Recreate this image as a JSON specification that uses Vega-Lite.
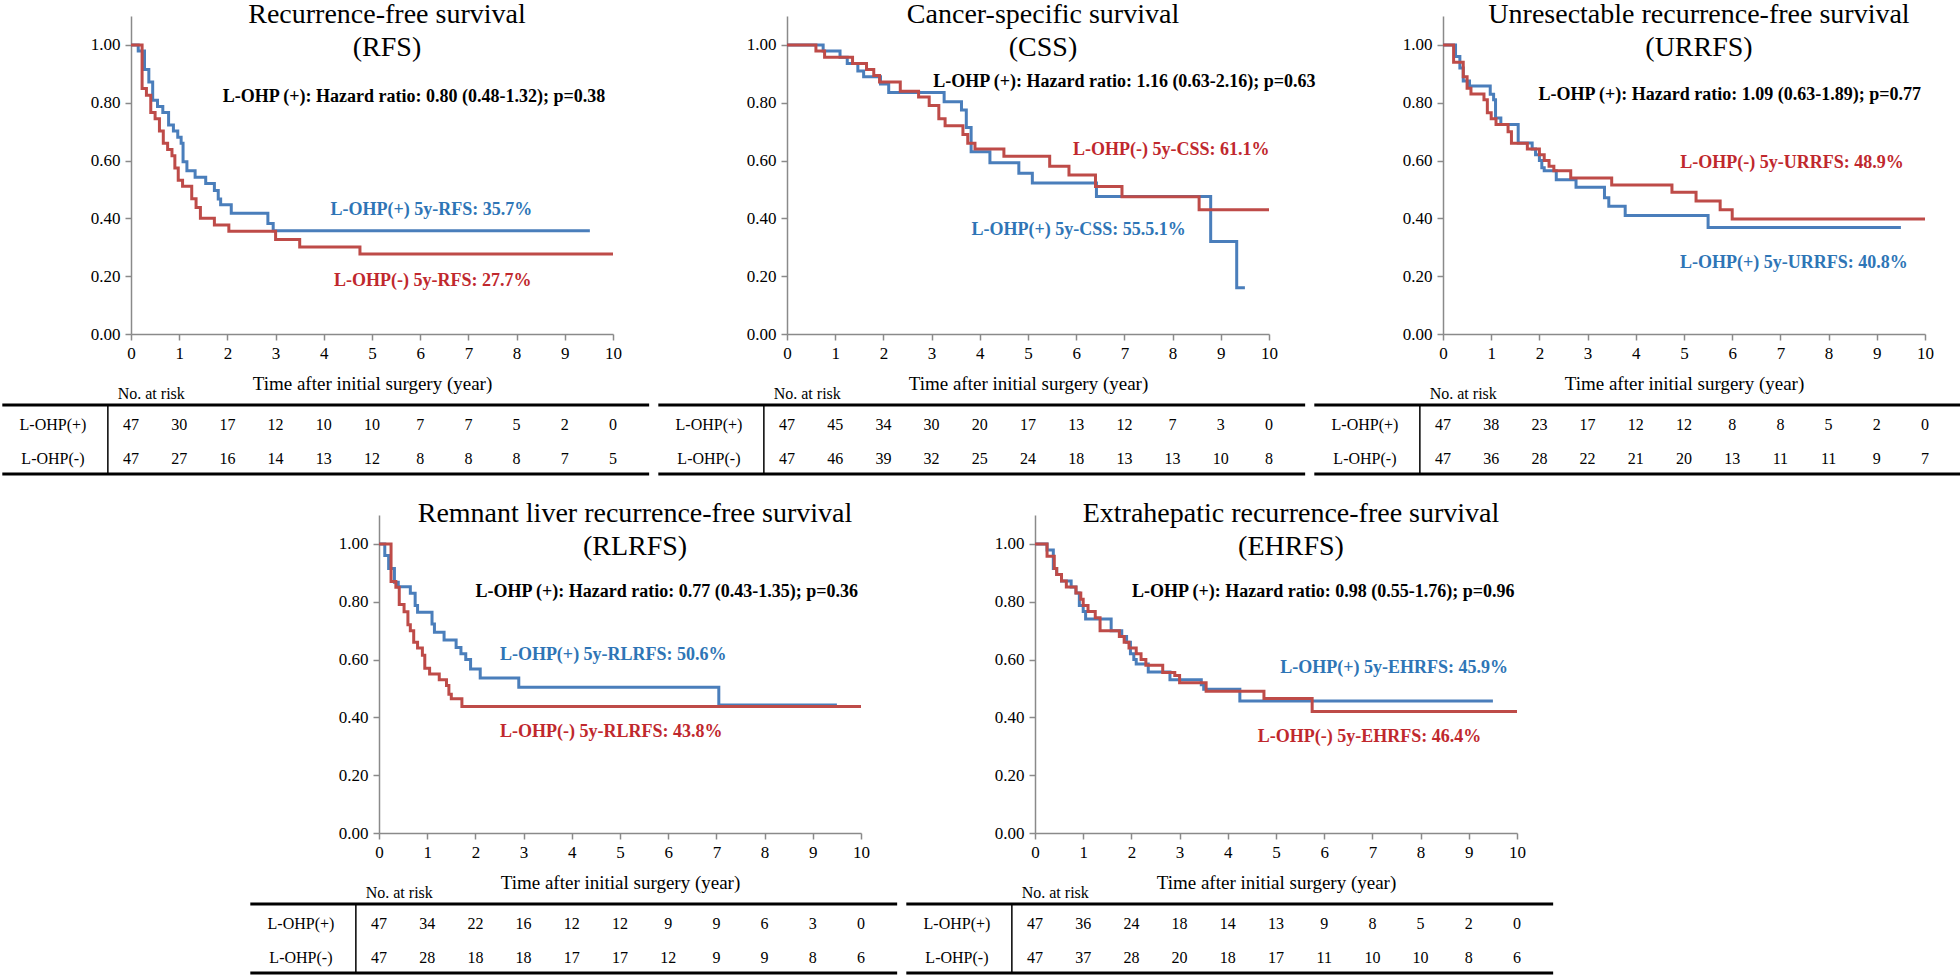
{
"$schema":"https://vega.github.io/schema/vega-lite/v6.json",
"background":"white",
"padding":{"left":0,"top":1,"right":0,"bottom":0},
"config":{"view":{"stroke":null},"font":"Liberation Serif",
"axis":{"labelFont":"Liberation Serif","titleFont":"Liberation Serif","labelColor":"#000","titleColor":"#000","domainColor":"#8a8a8a","tickColor":"#8a8a8a","domainWidth":1.5,"tickWidth":1.5,"grid":false,"labelFontSize":17,"titleFontSize":19,"titleFontWeight":"normal","tickSize":6},
"title":{"fontSize":28,"font":"Liberation Serif","fontWeight":"normal","color":"#000","lineHeight":33,"baseline":"top","offset":-46,"anchor":"middle","frame":"group","dx":15},
"text":{"font":"Liberation Serif","color":"#000"}},
"datasets":{
"km":[
{"p":"RFS","g":"+","t":0,"s":1},{"p":"RFS","g":"+","t":0.15,"s":0.979},{"p":"RFS","g":"+","t":0.28,"s":0.915},{"p":"RFS","g":"+","t":0.37,"s":0.872},{"p":"RFS","g":"+","t":0.45,"s":0.809},{"p":"RFS","g":"+","t":0.55,"s":0.787},{"p":"RFS","g":"+","t":0.66,"s":0.766},{"p":"RFS","g":"+","t":0.78,"s":0.723},{"p":"RFS","g":"+","t":0.88,"s":0.702},{"p":"RFS","g":"+","t":0.97,"s":0.681},{"p":"RFS","g":"+","t":1.04,"s":0.66},{"p":"RFS","g":"+","t":1.08,"s":0.596},{"p":"RFS","g":"+","t":1.16,"s":0.565},{"p":"RFS","g":"+","t":1.33,"s":0.542},{"p":"RFS","g":"+","t":1.55,"s":0.521},{"p":"RFS","g":"+","t":1.73,"s":0.496},{"p":"RFS","g":"+","t":1.81,"s":0.467},{"p":"RFS","g":"+","t":1.86,"s":0.447},{"p":"RFS","g":"+","t":2.08,"s":0.418},{"p":"RFS","g":"+","t":2.84,"s":0.382},{"p":"RFS","g":"+","t":2.95,"s":0.357},{"p":"RFS","g":"+","t":9.52,"s":0.357},
{"p":"RFS","g":"-","t":0,"s":1},{"p":"RFS","g":"-","t":0.23,"s":0.849},{"p":"RFS","g":"-","t":0.32,"s":0.826},{"p":"RFS","g":"-","t":0.41,"s":0.766},{"p":"RFS","g":"-","t":0.5,"s":0.745},{"p":"RFS","g":"-","t":0.59,"s":0.702},{"p":"RFS","g":"-","t":0.67,"s":0.66},{"p":"RFS","g":"-","t":0.76,"s":0.638},{"p":"RFS","g":"-","t":0.85,"s":0.617},{"p":"RFS","g":"-","t":0.91,"s":0.574},{"p":"RFS","g":"-","t":0.98,"s":0.532},{"p":"RFS","g":"-","t":1.07,"s":0.511},{"p":"RFS","g":"-","t":1.26,"s":0.468},{"p":"RFS","g":"-","t":1.35,"s":0.438},{"p":"RFS","g":"-","t":1.44,"s":0.4},{"p":"RFS","g":"-","t":1.73,"s":0.377},{"p":"RFS","g":"-","t":2.03,"s":0.355},{"p":"RFS","g":"-","t":3.0,"s":0.327},{"p":"RFS","g":"-","t":3.5,"s":0.301},{"p":"RFS","g":"-","t":4.75,"s":0.277},{"p":"RFS","g":"-","t":10,"s":0.277},
{"p":"CSS","g":"+","t":0,"s":1},{"p":"CSS","g":"+","t":0.75,"s":0.979},{"p":"CSS","g":"+","t":1.1,"s":0.957},{"p":"CSS","g":"+","t":1.25,"s":0.936},{"p":"CSS","g":"+","t":1.47,"s":0.91},{"p":"CSS","g":"+","t":1.59,"s":0.89},{"p":"CSS","g":"+","t":1.94,"s":0.865},{"p":"CSS","g":"+","t":2.11,"s":0.835},{"p":"CSS","g":"+","t":3.26,"s":0.803},{"p":"CSS","g":"+","t":3.62,"s":0.775},{"p":"CSS","g":"+","t":3.72,"s":0.714},{"p":"CSS","g":"+","t":3.82,"s":0.63},{"p":"CSS","g":"+","t":4.21,"s":0.592},{"p":"CSS","g":"+","t":4.81,"s":0.556},{"p":"CSS","g":"+","t":5.09,"s":0.522},{"p":"CSS","g":"+","t":6.42,"s":0.476},{"p":"CSS","g":"+","t":8.79,"s":0.32},{"p":"CSS","g":"+","t":9.33,"s":0.16},{"p":"CSS","g":"+","t":9.5,"s":0.16},
{"p":"CSS","g":"-","t":0,"s":1},{"p":"CSS","g":"-","t":0.6,"s":0.979},{"p":"CSS","g":"-","t":0.78,"s":0.957},{"p":"CSS","g":"-","t":1.36,"s":0.936},{"p":"CSS","g":"-","t":1.65,"s":0.915},{"p":"CSS","g":"-","t":1.8,"s":0.894},{"p":"CSS","g":"-","t":1.92,"s":0.872},{"p":"CSS","g":"-","t":2.35,"s":0.84},{"p":"CSS","g":"-","t":2.73,"s":0.82},{"p":"CSS","g":"-","t":2.95,"s":0.79},{"p":"CSS","g":"-","t":3.15,"s":0.745},{"p":"CSS","g":"-","t":3.28,"s":0.72},{"p":"CSS","g":"-","t":3.65,"s":0.69},{"p":"CSS","g":"-","t":3.75,"s":0.66},{"p":"CSS","g":"-","t":3.9,"s":0.64},{"p":"CSS","g":"-","t":4.5,"s":0.615},{"p":"CSS","g":"-","t":5.45,"s":0.58},{"p":"CSS","g":"-","t":5.85,"s":0.55},{"p":"CSS","g":"-","t":6.4,"s":0.51},{"p":"CSS","g":"-","t":6.95,"s":0.475},{"p":"CSS","g":"-","t":8.55,"s":0.43},{"p":"CSS","g":"-","t":10,"s":0.43},
{"p":"URRFS","g":"+","t":0,"s":1},{"p":"URRFS","g":"+","t":0.26,"s":0.96},{"p":"URRFS","g":"+","t":0.35,"s":0.92},{"p":"URRFS","g":"+","t":0.42,"s":0.875},{"p":"URRFS","g":"+","t":0.55,"s":0.858},{"p":"URRFS","g":"+","t":0.98,"s":0.829},{"p":"URRFS","g":"+","t":1.05,"s":0.81},{"p":"URRFS","g":"+","t":1.09,"s":0.747},{"p":"URRFS","g":"+","t":1.2,"s":0.725},{"p":"URRFS","g":"+","t":1.56,"s":0.661},{"p":"URRFS","g":"+","t":1.85,"s":0.64},{"p":"URRFS","g":"+","t":1.92,"s":0.62},{"p":"URRFS","g":"+","t":2.0,"s":0.6},{"p":"URRFS","g":"+","t":2.05,"s":0.575},{"p":"URRFS","g":"+","t":2.1,"s":0.565},{"p":"URRFS","g":"+","t":2.35,"s":0.534},{"p":"URRFS","g":"+","t":2.76,"s":0.508},{"p":"URRFS","g":"+","t":3.35,"s":0.471},{"p":"URRFS","g":"+","t":3.44,"s":0.442},{"p":"URRFS","g":"+","t":3.78,"s":0.41},{"p":"URRFS","g":"+","t":5.5,"s":0.368},{"p":"URRFS","g":"+","t":9.5,"s":0.368},
{"p":"URRFS","g":"-","t":0,"s":1},{"p":"URRFS","g":"-","t":0.22,"s":0.94},{"p":"URRFS","g":"-","t":0.42,"s":0.89},{"p":"URRFS","g":"-","t":0.5,"s":0.85},{"p":"URRFS","g":"-","t":0.58,"s":0.83},{"p":"URRFS","g":"-","t":0.85,"s":0.81},{"p":"URRFS","g":"-","t":0.92,"s":0.765},{"p":"URRFS","g":"-","t":1.0,"s":0.745},{"p":"URRFS","g":"-","t":1.1,"s":0.725},{"p":"URRFS","g":"-","t":1.35,"s":0.7},{"p":"URRFS","g":"-","t":1.42,"s":0.66},{"p":"URRFS","g":"-","t":1.75,"s":0.64},{"p":"URRFS","g":"-","t":2.0,"s":0.62},{"p":"URRFS","g":"-","t":2.1,"s":0.6},{"p":"URRFS","g":"-","t":2.2,"s":0.58},{"p":"URRFS","g":"-","t":2.3,"s":0.565},{"p":"URRFS","g":"-","t":2.65,"s":0.54},{"p":"URRFS","g":"-","t":3.5,"s":0.515},{"p":"URRFS","g":"-","t":4.75,"s":0.49},{"p":"URRFS","g":"-","t":5.25,"s":0.46},{"p":"URRFS","g":"-","t":5.75,"s":0.43},{"p":"URRFS","g":"-","t":6.0,"s":0.398},{"p":"URRFS","g":"-","t":10,"s":0.398},
{"p":"RLRFS","g":"+","t":0,"s":1},{"p":"RLRFS","g":"+","t":0.12,"s":0.96},{"p":"RLRFS","g":"+","t":0.2,"s":0.915},{"p":"RLRFS","g":"+","t":0.32,"s":0.867},{"p":"RLRFS","g":"+","t":0.4,"s":0.852},{"p":"RLRFS","g":"+","t":0.65,"s":0.829},{"p":"RLRFS","g":"+","t":0.75,"s":0.787},{"p":"RLRFS","g":"+","t":0.8,"s":0.764},{"p":"RLRFS","g":"+","t":1.1,"s":0.723},{"p":"RLRFS","g":"+","t":1.15,"s":0.694},{"p":"RLRFS","g":"+","t":1.35,"s":0.668},{"p":"RLRFS","g":"+","t":1.6,"s":0.642},{"p":"RLRFS","g":"+","t":1.7,"s":0.62},{"p":"RLRFS","g":"+","t":1.8,"s":0.6},{"p":"RLRFS","g":"+","t":1.9,"s":0.567},{"p":"RLRFS","g":"+","t":2.1,"s":0.536},{"p":"RLRFS","g":"+","t":2.9,"s":0.504},{"p":"RLRFS","g":"+","t":7.05,"s":0.443},{"p":"RLRFS","g":"+","t":9.5,"s":0.443},
{"p":"RLRFS","g":"-","t":0,"s":1},{"p":"RLRFS","g":"-","t":0.25,"s":0.87},{"p":"RLRFS","g":"-","t":0.35,"s":0.85},{"p":"RLRFS","g":"-","t":0.42,"s":0.79},{"p":"RLRFS","g":"-","t":0.52,"s":0.765},{"p":"RLRFS","g":"-","t":0.6,"s":0.72},{"p":"RLRFS","g":"-","t":0.65,"s":0.7},{"p":"RLRFS","g":"-","t":0.72,"s":0.66},{"p":"RLRFS","g":"-","t":0.8,"s":0.64},{"p":"RLRFS","g":"-","t":0.9,"s":0.615},{"p":"RLRFS","g":"-","t":0.95,"s":0.57},{"p":"RLRFS","g":"-","t":1.05,"s":0.55},{"p":"RLRFS","g":"-","t":1.25,"s":0.53},{"p":"RLRFS","g":"-","t":1.4,"s":0.51},{"p":"RLRFS","g":"-","t":1.45,"s":0.48},{"p":"RLRFS","g":"-","t":1.5,"s":0.464},{"p":"RLRFS","g":"-","t":1.72,"s":0.438},{"p":"RLRFS","g":"-","t":10,"s":0.438},
{"p":"EHRFS","g":"+","t":0,"s":1},{"p":"EHRFS","g":"+","t":0.25,"s":0.979},{"p":"EHRFS","g":"+","t":0.38,"s":0.915},{"p":"EHRFS","g":"+","t":0.45,"s":0.894},{"p":"EHRFS","g":"+","t":0.55,"s":0.872},{"p":"EHRFS","g":"+","t":0.75,"s":0.851},{"p":"EHRFS","g":"+","t":0.85,"s":0.83},{"p":"EHRFS","g":"+","t":0.92,"s":0.787},{"p":"EHRFS","g":"+","t":1.0,"s":0.766},{"p":"EHRFS","g":"+","t":1.05,"s":0.74},{"p":"EHRFS","g":"+","t":1.58,"s":0.7},{"p":"EHRFS","g":"+","t":1.8,"s":0.68},{"p":"EHRFS","g":"+","t":1.9,"s":0.66},{"p":"EHRFS","g":"+","t":1.98,"s":0.62},{"p":"EHRFS","g":"+","t":2.05,"s":0.6},{"p":"EHRFS","g":"+","t":2.1,"s":0.585},{"p":"EHRFS","g":"+","t":2.35,"s":0.557},{"p":"EHRFS","g":"+","t":2.8,"s":0.53},{"p":"EHRFS","g":"+","t":3.45,"s":0.513},{"p":"EHRFS","g":"+","t":3.5,"s":0.497},{"p":"EHRFS","g":"+","t":4.25,"s":0.457},{"p":"EHRFS","g":"+","t":9.5,"s":0.457},
{"p":"EHRFS","g":"-","t":0,"s":1},{"p":"EHRFS","g":"-","t":0.25,"s":0.957},{"p":"EHRFS","g":"-","t":0.4,"s":0.915},{"p":"EHRFS","g":"-","t":0.45,"s":0.894},{"p":"EHRFS","g":"-","t":0.55,"s":0.872},{"p":"EHRFS","g":"-","t":0.65,"s":0.851},{"p":"EHRFS","g":"-","t":0.85,"s":0.83},{"p":"EHRFS","g":"-","t":0.95,"s":0.809},{"p":"EHRFS","g":"-","t":1.0,"s":0.787},{"p":"EHRFS","g":"-","t":1.1,"s":0.766},{"p":"EHRFS","g":"-","t":1.25,"s":0.745},{"p":"EHRFS","g":"-","t":1.35,"s":0.7},{"p":"EHRFS","g":"-","t":1.75,"s":0.68},{"p":"EHRFS","g":"-","t":1.85,"s":0.66},{"p":"EHRFS","g":"-","t":1.95,"s":0.64},{"p":"EHRFS","g":"-","t":2.1,"s":0.62},{"p":"EHRFS","g":"-","t":2.2,"s":0.6},{"p":"EHRFS","g":"-","t":2.3,"s":0.58},{"p":"EHRFS","g":"-","t":2.65,"s":0.555},{"p":"EHRFS","g":"-","t":2.9,"s":0.545},{"p":"EHRFS","g":"-","t":3.0,"s":0.52},{"p":"EHRFS","g":"-","t":3.55,"s":0.49},{"p":"EHRFS","g":"-","t":4.75,"s":0.465},{"p":"EHRFS","g":"-","t":5.75,"s":0.42},{"p":"EHRFS","g":"-","t":10,"s":0.42}
],
"ann":[
{"p":"RFS","k":"hr","label":"L-OHP (+): Hazard ratio: 0.80 (0.48-1.32); p=0.38","t":5.87,"s":0.82},
{"p":"RFS","k":"+","label":"L-OHP(+) 5y-RFS: 35.7%","t":6.23,"s":0.43},
{"p":"RFS","k":"-","label":"L-OHP(-) 5y-RFS: 27.7%","t":6.26,"s":0.185},
{"p":"CSS","k":"hr","label":"L-OHP (+): Hazard ratio: 1.16 (0.63-2.16); p=0.63","t":7.0,"s":0.873},
{"p":"CSS","k":"-","label":"L-OHP(-) 5y-CSS: 61.1%","t":7.97,"s":0.638},
{"p":"CSS","k":"+","label":"L-OHP(+) 5y-CSS: 55.5.1%","t":6.05,"s":0.361},
{"p":"URRFS","k":"hr","label":"L-OHP (+): Hazard ratio: 1.09 (0.63-1.89); p=0.77","t":5.95,"s":0.827},
{"p":"URRFS","k":"-","label":"L-OHP(-) 5y-URRFS: 48.9%","t":7.24,"s":0.59},
{"p":"URRFS","k":"+","label":"L-OHP(+) 5y-URRFS: 40.8%","t":7.28,"s":0.245},
{"p":"RLRFS","k":"hr","label":"L-OHP (+): Hazard ratio: 0.77 (0.43-1.35); p=0.36","t":5.97,"s":0.835},
{"p":"RLRFS","k":"+","label":"L-OHP(+) 5y-RLRFS: 50.6%","t":4.86,"s":0.614},
{"p":"RLRFS","k":"-","label":"L-OHP(-) 5y-RLRFS: 43.8%","t":4.82,"s":0.348},
{"p":"EHRFS","k":"hr","label":"L-OHP (+): Hazard ratio: 0.98 (0.55-1.76); p=0.96","t":5.98,"s":0.833},
{"p":"EHRFS","k":"+","label":"L-OHP(+) 5y-EHRFS: 45.9%","t":7.45,"s":0.571},
{"p":"EHRFS","k":"-","label":"L-OHP(-) 5y-EHRFS: 46.4%","t":6.94,"s":0.331}
],
"rows":[{"g":"L-OHP(+)","r":1},{"g":"L-OHP(-)","r":2}],
"risk":[
{"p":"RFS","r":1,"t":0,"n":47},{"p":"RFS","r":1,"t":1,"n":30},{"p":"RFS","r":1,"t":2,"n":17},{"p":"RFS","r":1,"t":3,"n":12},{"p":"RFS","r":1,"t":4,"n":10},{"p":"RFS","r":1,"t":5,"n":10},{"p":"RFS","r":1,"t":6,"n":7},{"p":"RFS","r":1,"t":7,"n":7},{"p":"RFS","r":1,"t":8,"n":5},{"p":"RFS","r":1,"t":9,"n":2},{"p":"RFS","r":1,"t":10,"n":0},
{"p":"RFS","r":2,"t":0,"n":47},{"p":"RFS","r":2,"t":1,"n":27},{"p":"RFS","r":2,"t":2,"n":16},{"p":"RFS","r":2,"t":3,"n":14},{"p":"RFS","r":2,"t":4,"n":13},{"p":"RFS","r":2,"t":5,"n":12},{"p":"RFS","r":2,"t":6,"n":8},{"p":"RFS","r":2,"t":7,"n":8},{"p":"RFS","r":2,"t":8,"n":8},{"p":"RFS","r":2,"t":9,"n":7},{"p":"RFS","r":2,"t":10,"n":5},
{"p":"CSS","r":1,"t":0,"n":47},{"p":"CSS","r":1,"t":1,"n":45},{"p":"CSS","r":1,"t":2,"n":34},{"p":"CSS","r":1,"t":3,"n":30},{"p":"CSS","r":1,"t":4,"n":20},{"p":"CSS","r":1,"t":5,"n":17},{"p":"CSS","r":1,"t":6,"n":13},{"p":"CSS","r":1,"t":7,"n":12},{"p":"CSS","r":1,"t":8,"n":7},{"p":"CSS","r":1,"t":9,"n":3},{"p":"CSS","r":1,"t":10,"n":0},
{"p":"CSS","r":2,"t":0,"n":47},{"p":"CSS","r":2,"t":1,"n":46},{"p":"CSS","r":2,"t":2,"n":39},{"p":"CSS","r":2,"t":3,"n":32},{"p":"CSS","r":2,"t":4,"n":25},{"p":"CSS","r":2,"t":5,"n":24},{"p":"CSS","r":2,"t":6,"n":18},{"p":"CSS","r":2,"t":7,"n":13},{"p":"CSS","r":2,"t":8,"n":13},{"p":"CSS","r":2,"t":9,"n":10},{"p":"CSS","r":2,"t":10,"n":8},
{"p":"URRFS","r":1,"t":0,"n":47},{"p":"URRFS","r":1,"t":1,"n":38},{"p":"URRFS","r":1,"t":2,"n":23},{"p":"URRFS","r":1,"t":3,"n":17},{"p":"URRFS","r":1,"t":4,"n":12},{"p":"URRFS","r":1,"t":5,"n":12},{"p":"URRFS","r":1,"t":6,"n":8},{"p":"URRFS","r":1,"t":7,"n":8},{"p":"URRFS","r":1,"t":8,"n":5},{"p":"URRFS","r":1,"t":9,"n":2},{"p":"URRFS","r":1,"t":10,"n":0},
{"p":"URRFS","r":2,"t":0,"n":47},{"p":"URRFS","r":2,"t":1,"n":36},{"p":"URRFS","r":2,"t":2,"n":28},{"p":"URRFS","r":2,"t":3,"n":22},{"p":"URRFS","r":2,"t":4,"n":21},{"p":"URRFS","r":2,"t":5,"n":20},{"p":"URRFS","r":2,"t":6,"n":13},{"p":"URRFS","r":2,"t":7,"n":11},{"p":"URRFS","r":2,"t":8,"n":11},{"p":"URRFS","r":2,"t":9,"n":9},{"p":"URRFS","r":2,"t":10,"n":7},
{"p":"RLRFS","r":1,"t":0,"n":47},{"p":"RLRFS","r":1,"t":1,"n":34},{"p":"RLRFS","r":1,"t":2,"n":22},{"p":"RLRFS","r":1,"t":3,"n":16},{"p":"RLRFS","r":1,"t":4,"n":12},{"p":"RLRFS","r":1,"t":5,"n":12},{"p":"RLRFS","r":1,"t":6,"n":9},{"p":"RLRFS","r":1,"t":7,"n":9},{"p":"RLRFS","r":1,"t":8,"n":6},{"p":"RLRFS","r":1,"t":9,"n":3},{"p":"RLRFS","r":1,"t":10,"n":0},
{"p":"RLRFS","r":2,"t":0,"n":47},{"p":"RLRFS","r":2,"t":1,"n":28},{"p":"RLRFS","r":2,"t":2,"n":18},{"p":"RLRFS","r":2,"t":3,"n":18},{"p":"RLRFS","r":2,"t":4,"n":17},{"p":"RLRFS","r":2,"t":5,"n":17},{"p":"RLRFS","r":2,"t":6,"n":12},{"p":"RLRFS","r":2,"t":7,"n":9},{"p":"RLRFS","r":2,"t":8,"n":9},{"p":"RLRFS","r":2,"t":9,"n":8},{"p":"RLRFS","r":2,"t":10,"n":6},
{"p":"EHRFS","r":1,"t":0,"n":47},{"p":"EHRFS","r":1,"t":1,"n":36},{"p":"EHRFS","r":1,"t":2,"n":24},{"p":"EHRFS","r":1,"t":3,"n":18},{"p":"EHRFS","r":1,"t":4,"n":14},{"p":"EHRFS","r":1,"t":5,"n":13},{"p":"EHRFS","r":1,"t":6,"n":9},{"p":"EHRFS","r":1,"t":7,"n":8},{"p":"EHRFS","r":1,"t":8,"n":5},{"p":"EHRFS","r":1,"t":9,"n":2},{"p":"EHRFS","r":1,"t":10,"n":0},
{"p":"EHRFS","r":2,"t":0,"n":47},{"p":"EHRFS","r":2,"t":1,"n":37},{"p":"EHRFS","r":2,"t":2,"n":28},{"p":"EHRFS","r":2,"t":3,"n":20},{"p":"EHRFS","r":2,"t":4,"n":18},{"p":"EHRFS","r":2,"t":5,"n":17},{"p":"EHRFS","r":2,"t":6,"n":11},{"p":"EHRFS","r":2,"t":7,"n":10},{"p":"EHRFS","r":2,"t":8,"n":10},{"p":"EHRFS","r":2,"t":9,"n":8},{"p":"EHRFS","r":2,"t":10,"n":6}
]
},
"spacing":-7,
"vconcat":[
{"bounds":"flush","spacing":174,"hconcat":[
{"width":482,"height":318,"title":{"text":["Recurrence-free survival","(RFS)"]},"layer":[
{"data":{"name":"km"},"transform":[{"filter":"datum.p=='RFS'"}],"mark":{"type":"line","interpolate":"step-after","strokeWidth":3},"encoding":{"x":{"field":"t","type":"quantitative","scale":{"domain":[0,10],"nice":false},"axis":{"values":[0,1,2,3,4,5,6,7,8,9,10],"title":"Time after initial surgery (year)","labelPadding":5,"titlePadding":13,"labelFlush":false}},"y":{"field":"s","type":"quantitative","scale":{"domain":[0,1.1],"nice":false},"axis":{"values":[0,0.2,0.4,0.6,0.8,1],"format":".2f","title":null,"labelPadding":5}},"stroke":{"field":"g","type":"nominal","scale":{"domain":["+","-"],"range":["#4a7ebb","#be4b48"]},"legend":null}}},
{"data":{"name":"ann"},"transform":[{"filter":"datum.p=='RFS' && datum.k=='hr'"}],"mark":{"type":"text","fontSize":18,"fontWeight":"bold","color":"#000"},"encoding":{"x":{"field":"t","type":"quantitative"},"y":{"field":"s","type":"quantitative"},"text":{"field":"label"}}},
{"data":{"name":"ann"},"transform":[{"filter":"datum.p=='RFS' && datum.k!='hr'"}],"mark":{"type":"text","fontSize":18,"fontWeight":"bold"},"encoding":{"x":{"field":"t","type":"quantitative"},"y":{"field":"s","type":"quantitative"},"text":{"field":"label"},"fill":{"field":"k","type":"nominal","scale":{"domain":["+","-"],"range":["#2e75b6","#c0282d"]},"legend":null}}}
]},
{"width":482,"height":318,"title":{"text":["Cancer-specific survival","(CSS)"]},"layer":[
{"data":{"name":"km"},"transform":[{"filter":"datum.p=='CSS'"}],"mark":{"type":"line","interpolate":"step-after","strokeWidth":3},"encoding":{"x":{"field":"t","type":"quantitative","scale":{"domain":[0,10],"nice":false},"axis":{"values":[0,1,2,3,4,5,6,7,8,9,10],"title":"Time after initial surgery (year)","labelPadding":5,"titlePadding":13,"labelFlush":false}},"y":{"field":"s","type":"quantitative","scale":{"domain":[0,1.1],"nice":false},"axis":{"values":[0,0.2,0.4,0.6,0.8,1],"format":".2f","title":null,"labelPadding":5}},"stroke":{"field":"g","type":"nominal","scale":{"domain":["+","-"],"range":["#4a7ebb","#be4b48"]},"legend":null}}},
{"data":{"name":"ann"},"transform":[{"filter":"datum.p=='CSS' && datum.k=='hr'"}],"mark":{"type":"text","fontSize":18,"fontWeight":"bold","color":"#000"},"encoding":{"x":{"field":"t","type":"quantitative"},"y":{"field":"s","type":"quantitative"},"text":{"field":"label"}}},
{"data":{"name":"ann"},"transform":[{"filter":"datum.p=='CSS' && datum.k!='hr'"}],"mark":{"type":"text","fontSize":18,"fontWeight":"bold"},"encoding":{"x":{"field":"t","type":"quantitative"},"y":{"field":"s","type":"quantitative"},"text":{"field":"label"},"fill":{"field":"k","type":"nominal","scale":{"domain":["+","-"],"range":["#2e75b6","#c0282d"]},"legend":null}}}
]},
{"width":482,"height":318,"title":{"text":["Unresectable recurrence-free survival","(URRFS)"]},"layer":[
{"data":{"name":"km"},"transform":[{"filter":"datum.p=='URRFS'"}],"mark":{"type":"line","interpolate":"step-after","strokeWidth":3},"encoding":{"x":{"field":"t","type":"quantitative","scale":{"domain":[0,10],"nice":false},"axis":{"values":[0,1,2,3,4,5,6,7,8,9,10],"title":"Time after initial surgery (year)","labelPadding":5,"titlePadding":13,"labelFlush":false}},"y":{"field":"s","type":"quantitative","scale":{"domain":[0,1.1],"nice":false},"axis":{"values":[0,0.2,0.4,0.6,0.8,1],"format":".2f","title":null,"labelPadding":5}},"stroke":{"field":"g","type":"nominal","scale":{"domain":["+","-"],"range":["#4a7ebb","#be4b48"]},"legend":null}}},
{"data":{"name":"ann"},"transform":[{"filter":"datum.p=='URRFS' && datum.k=='hr'"}],"mark":{"type":"text","fontSize":18,"fontWeight":"bold","color":"#000"},"encoding":{"x":{"field":"t","type":"quantitative"},"y":{"field":"s","type":"quantitative"},"text":{"field":"label"}}},
{"data":{"name":"ann"},"transform":[{"filter":"datum.p=='URRFS' && datum.k!='hr'"}],"mark":{"type":"text","fontSize":18,"fontWeight":"bold"},"encoding":{"x":{"field":"t","type":"quantitative"},"y":{"field":"s","type":"quantitative"},"text":{"field":"label"},"fill":{"field":"k","type":"nominal","scale":{"domain":["+","-"],"range":["#2e75b6","#c0282d"]},"legend":null}}}
]}
]},
{"bounds":"flush","spacing":174,"hconcat":[
{"width":482,"height":102,"layer":[
{"data":{"name":"risk"},"transform":[{"filter":"datum.p=='RFS'"}],"mark":{"type":"text","fontSize":16},"encoding":{"x":{"field":"t","type":"quantitative","scale":{"domain":[0,10],"nice":false},"axis":null},"y":{"field":"r","type":"quantitative","scale":{"domain":[0.42,3.42],"reverse":true,"nice":false,"zero":false},"axis":null},"text":{"field":"n"}}},
{"data":{"name":"rows"},"mark":{"type":"text","fontSize":16},"encoding":{"x":{"datum":-1.62},"y":{"field":"r","type":"quantitative"},"text":{"field":"g"}}},
{"data":{"values":[{}]},"mark":{"type":"text","fontSize":16,"text":"No. at risk"},"encoding":{"x":{"datum":0.42},"y":{"datum":0.1}}},
{"data":{"values":[{}]},"mark":{"type":"rule","strokeWidth":3,"color":"#000"},"encoding":{"x":{"datum":-2.67},"x2":{"datum":10.75},"y":{"datum":0.42}}},
{"data":{"values":[{}]},"mark":{"type":"rule","strokeWidth":3,"color":"#000"},"encoding":{"x":{"datum":-2.67},"x2":{"datum":10.75},"y":{"datum":2.45}}},
{"data":{"values":[{}]},"mark":{"type":"rule","strokeWidth":1.5,"color":"#000"},"encoding":{"x":{"datum":-0.48},"y":{"datum":0.42},"y2":{"datum":2.45}}}
]},
{"width":482,"height":102,"layer":[
{"data":{"name":"risk"},"transform":[{"filter":"datum.p=='CSS'"}],"mark":{"type":"text","fontSize":16},"encoding":{"x":{"field":"t","type":"quantitative","scale":{"domain":[0,10],"nice":false},"axis":null},"y":{"field":"r","type":"quantitative","scale":{"domain":[0.42,3.42],"reverse":true,"nice":false,"zero":false},"axis":null},"text":{"field":"n"}}},
{"data":{"name":"rows"},"mark":{"type":"text","fontSize":16},"encoding":{"x":{"datum":-1.62},"y":{"field":"r","type":"quantitative"},"text":{"field":"g"}}},
{"data":{"values":[{}]},"mark":{"type":"text","fontSize":16,"text":"No. at risk"},"encoding":{"x":{"datum":0.42},"y":{"datum":0.1}}},
{"data":{"values":[{}]},"mark":{"type":"rule","strokeWidth":3,"color":"#000"},"encoding":{"x":{"datum":-2.67},"x2":{"datum":10.75},"y":{"datum":0.42}}},
{"data":{"values":[{}]},"mark":{"type":"rule","strokeWidth":3,"color":"#000"},"encoding":{"x":{"datum":-2.67},"x2":{"datum":10.75},"y":{"datum":2.45}}},
{"data":{"values":[{}]},"mark":{"type":"rule","strokeWidth":1.5,"color":"#000"},"encoding":{"x":{"datum":-0.48},"y":{"datum":0.42},"y2":{"datum":2.45}}}
]},
{"width":482,"height":102,"layer":[
{"data":{"name":"risk"},"transform":[{"filter":"datum.p=='URRFS'"}],"mark":{"type":"text","fontSize":16},"encoding":{"x":{"field":"t","type":"quantitative","scale":{"domain":[0,10],"nice":false},"axis":null},"y":{"field":"r","type":"quantitative","scale":{"domain":[0.42,3.42],"reverse":true,"nice":false,"zero":false},"axis":null},"text":{"field":"n"}}},
{"data":{"name":"rows"},"mark":{"type":"text","fontSize":16},"encoding":{"x":{"datum":-1.62},"y":{"field":"r","type":"quantitative"},"text":{"field":"g"}}},
{"data":{"values":[{}]},"mark":{"type":"text","fontSize":16,"text":"No. at risk"},"encoding":{"x":{"datum":0.42},"y":{"datum":0.1}}},
{"data":{"values":[{}]},"mark":{"type":"rule","strokeWidth":3,"color":"#000"},"encoding":{"x":{"datum":-2.67},"x2":{"datum":10.75},"y":{"datum":0.42}}},
{"data":{"values":[{}]},"mark":{"type":"rule","strokeWidth":3,"color":"#000"},"encoding":{"x":{"datum":-2.67},"x2":{"datum":10.75},"y":{"datum":2.45}}},
{"data":{"values":[{}]},"mark":{"type":"rule","strokeWidth":1.5,"color":"#000"},"encoding":{"x":{"datum":-0.48},"y":{"datum":0.42},"y2":{"datum":2.45}}}
]}
]},
{"bounds":"flush","spacing":174,"hconcat":[
{"width":74,"height":10,"data":{"values":[]},"mark":"point"},
{"width":482,"height":318,"title":{"text":["Remnant liver recurrence-free survival","(RLRFS)"]},"layer":[
{"data":{"name":"km"},"transform":[{"filter":"datum.p=='RLRFS'"}],"mark":{"type":"line","interpolate":"step-after","strokeWidth":3},"encoding":{"x":{"field":"t","type":"quantitative","scale":{"domain":[0,10],"nice":false},"axis":{"values":[0,1,2,3,4,5,6,7,8,9,10],"title":"Time after initial surgery (year)","labelPadding":5,"titlePadding":13,"labelFlush":false}},"y":{"field":"s","type":"quantitative","scale":{"domain":[0,1.1],"nice":false},"axis":{"values":[0,0.2,0.4,0.6,0.8,1],"format":".2f","title":null,"labelPadding":5}},"stroke":{"field":"g","type":"nominal","scale":{"domain":["+","-"],"range":["#4a7ebb","#be4b48"]},"legend":null}}},
{"data":{"name":"ann"},"transform":[{"filter":"datum.p=='RLRFS' && datum.k=='hr'"}],"mark":{"type":"text","fontSize":18,"fontWeight":"bold","color":"#000"},"encoding":{"x":{"field":"t","type":"quantitative"},"y":{"field":"s","type":"quantitative"},"text":{"field":"label"}}},
{"data":{"name":"ann"},"transform":[{"filter":"datum.p=='RLRFS' && datum.k!='hr'"}],"mark":{"type":"text","fontSize":18,"fontWeight":"bold"},"encoding":{"x":{"field":"t","type":"quantitative"},"y":{"field":"s","type":"quantitative"},"text":{"field":"label"},"fill":{"field":"k","type":"nominal","scale":{"domain":["+","-"],"range":["#2e75b6","#c0282d"]},"legend":null}}}
]},
{"width":482,"height":318,"title":{"text":["Extrahepatic recurrence-free survival","(EHRFS)"]},"layer":[
{"data":{"name":"km"},"transform":[{"filter":"datum.p=='EHRFS'"}],"mark":{"type":"line","interpolate":"step-after","strokeWidth":3},"encoding":{"x":{"field":"t","type":"quantitative","scale":{"domain":[0,10],"nice":false},"axis":{"values":[0,1,2,3,4,5,6,7,8,9,10],"title":"Time after initial surgery (year)","labelPadding":5,"titlePadding":13,"labelFlush":false}},"y":{"field":"s","type":"quantitative","scale":{"domain":[0,1.1],"nice":false},"axis":{"values":[0,0.2,0.4,0.6,0.8,1],"format":".2f","title":null,"labelPadding":5}},"stroke":{"field":"g","type":"nominal","scale":{"domain":["+","-"],"range":["#4a7ebb","#be4b48"]},"legend":null}}},
{"data":{"name":"ann"},"transform":[{"filter":"datum.p=='EHRFS' && datum.k=='hr'"}],"mark":{"type":"text","fontSize":18,"fontWeight":"bold","color":"#000"},"encoding":{"x":{"field":"t","type":"quantitative"},"y":{"field":"s","type":"quantitative"},"text":{"field":"label"}}},
{"data":{"name":"ann"},"transform":[{"filter":"datum.p=='EHRFS' && datum.k!='hr'"}],"mark":{"type":"text","fontSize":18,"fontWeight":"bold"},"encoding":{"x":{"field":"t","type":"quantitative"},"y":{"field":"s","type":"quantitative"},"text":{"field":"label"},"fill":{"field":"k","type":"nominal","scale":{"domain":["+","-"],"range":["#2e75b6","#c0282d"]},"legend":null}}}
]}
]},
{"bounds":"flush","spacing":174,"hconcat":[
{"width":74,"height":10,"data":{"values":[]},"mark":"point"},
{"width":482,"height":102,"layer":[
{"data":{"name":"risk"},"transform":[{"filter":"datum.p=='RLRFS'"}],"mark":{"type":"text","fontSize":16},"encoding":{"x":{"field":"t","type":"quantitative","scale":{"domain":[0,10],"nice":false},"axis":null},"y":{"field":"r","type":"quantitative","scale":{"domain":[0.42,3.42],"reverse":true,"nice":false,"zero":false},"axis":null},"text":{"field":"n"}}},
{"data":{"name":"rows"},"mark":{"type":"text","fontSize":16},"encoding":{"x":{"datum":-1.62},"y":{"field":"r","type":"quantitative"},"text":{"field":"g"}}},
{"data":{"values":[{}]},"mark":{"type":"text","fontSize":16,"text":"No. at risk"},"encoding":{"x":{"datum":0.42},"y":{"datum":0.1}}},
{"data":{"values":[{}]},"mark":{"type":"rule","strokeWidth":3,"color":"#000"},"encoding":{"x":{"datum":-2.67},"x2":{"datum":10.75},"y":{"datum":0.42}}},
{"data":{"values":[{}]},"mark":{"type":"rule","strokeWidth":3,"color":"#000"},"encoding":{"x":{"datum":-2.67},"x2":{"datum":10.75},"y":{"datum":2.45}}},
{"data":{"values":[{}]},"mark":{"type":"rule","strokeWidth":1.5,"color":"#000"},"encoding":{"x":{"datum":-0.48},"y":{"datum":0.42},"y2":{"datum":2.45}}}
]},
{"width":482,"height":102,"layer":[
{"data":{"name":"risk"},"transform":[{"filter":"datum.p=='EHRFS'"}],"mark":{"type":"text","fontSize":16},"encoding":{"x":{"field":"t","type":"quantitative","scale":{"domain":[0,10],"nice":false},"axis":null},"y":{"field":"r","type":"quantitative","scale":{"domain":[0.42,3.42],"reverse":true,"nice":false,"zero":false},"axis":null},"text":{"field":"n"}}},
{"data":{"name":"rows"},"mark":{"type":"text","fontSize":16},"encoding":{"x":{"datum":-1.62},"y":{"field":"r","type":"quantitative"},"text":{"field":"g"}}},
{"data":{"values":[{}]},"mark":{"type":"text","fontSize":16,"text":"No. at risk"},"encoding":{"x":{"datum":0.42},"y":{"datum":0.1}}},
{"data":{"values":[{}]},"mark":{"type":"rule","strokeWidth":3,"color":"#000"},"encoding":{"x":{"datum":-2.67},"x2":{"datum":10.75},"y":{"datum":0.42}}},
{"data":{"values":[{}]},"mark":{"type":"rule","strokeWidth":3,"color":"#000"},"encoding":{"x":{"datum":-2.67},"x2":{"datum":10.75},"y":{"datum":2.45}}},
{"data":{"values":[{}]},"mark":{"type":"rule","strokeWidth":1.5,"color":"#000"},"encoding":{"x":{"datum":-0.48},"y":{"datum":0.42},"y2":{"datum":2.45}}}
]}
]}
]
}
